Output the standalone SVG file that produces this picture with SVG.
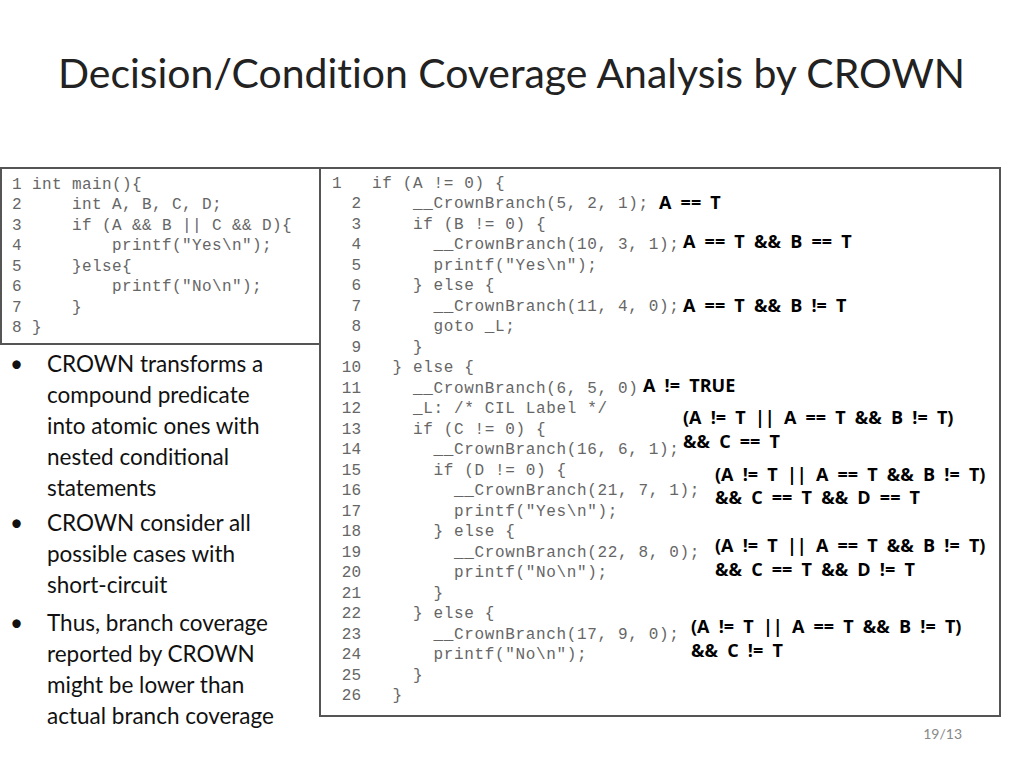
<svg xmlns="http://www.w3.org/2000/svg" width="1024" height="768" viewBox="0 0 1024 768">
<style>
.code{font-family:"Liberation Mono",monospace;font-size:16px;fill:#666;white-space:pre}
.l{letter-spacing:0.4px}
.r{letter-spacing:0.65px}
.num{font-family:"Liberation Mono",monospace;font-size:16px;fill:#666;text-anchor:end}
.ann{font-family:"Open Sans",sans-serif;font-weight:bold;font-size:18px;word-spacing:4.5px;fill:#000}
.bul{font-family:Lato,"Open Sans",sans-serif;font-size:22.5px;fill:#111}
</style>
<rect width="1024" height="768" fill="#fff"/>
<text x="58" y="88" font-family="Lato,'Open Sans',sans-serif" font-size="40" fill="#222" style="font-variant-ligatures:none" textLength="907" lengthAdjust="spacingAndGlyphs">Decision/Condition Coverage Analysis by CROWN</text>
<g id="left-code">
<rect x="1" y="168" width="319" height="176" fill="#fff" stroke="#555" stroke-width="2"/>
<text class="code l" xml:space="preserve"><tspan x="12" y="189">1 int main(){</tspan><tspan x="12" y="209">2     int A, B, C, D;</tspan><tspan x="12" y="230">3     if (A &amp;&amp; B || C &amp;&amp; D){</tspan><tspan x="12" y="250">4         printf("Yes\n");</tspan><tspan x="12" y="271">5     }else{</tspan><tspan x="12" y="291">6         printf("No\n");</tspan><tspan x="12" y="312">7     }</tspan><tspan x="12" y="332">8 }</tspan></text>
</g>
<g id="right-code">
<rect x="320" y="168" width="680" height="548" fill="#fff" stroke="#555" stroke-width="2"/>
<text class="code" x="332" y="188">1</text>
<text class="num"><tspan x="361" y="208">2</tspan><tspan x="361" y="229">3</tspan><tspan x="361" y="249">4</tspan><tspan x="361" y="270">5</tspan><tspan x="361" y="290">6</tspan><tspan x="361" y="311">7</tspan><tspan x="361" y="331">8</tspan><tspan x="361" y="352">9</tspan><tspan x="361" y="372">10</tspan><tspan x="361" y="393">11</tspan><tspan x="361" y="413">12</tspan><tspan x="361" y="434">13</tspan><tspan x="361" y="454">14</tspan><tspan x="361" y="475">15</tspan><tspan x="361" y="495">16</tspan><tspan x="361" y="516">17</tspan><tspan x="361" y="536">18</tspan><tspan x="361" y="557">19</tspan><tspan x="361" y="577">20</tspan><tspan x="361" y="598">21</tspan><tspan x="361" y="618">22</tspan><tspan x="361" y="639">23</tspan><tspan x="361" y="659">24</tspan><tspan x="361" y="680">25</tspan><tspan x="361" y="700">26</tspan></text>
<text class="code r" xml:space="preserve"><tspan x="372" y="188">if (A != 0) {</tspan><tspan x="372" y="208">    __CrownBranch(5, 2, 1);</tspan><tspan x="372" y="229">    if (B != 0) {</tspan><tspan x="372" y="249">      __CrownBranch(10, 3, 1);</tspan><tspan x="372" y="270">      printf("Yes\n");</tspan><tspan x="372" y="290">    } else {</tspan><tspan x="372" y="311">      __CrownBranch(11, 4, 0);</tspan><tspan x="372" y="331">      goto _L;</tspan><tspan x="372" y="352">    }</tspan><tspan x="372" y="372">  } else {</tspan><tspan x="372" y="393">    __CrownBranch(6, 5, 0);</tspan><tspan x="372" y="413">    _L: /* CIL Label */</tspan><tspan x="372" y="434">    if (C != 0) {</tspan><tspan x="372" y="454">      __CrownBranch(16, 6, 1);</tspan><tspan x="372" y="475">      if (D != 0) {</tspan><tspan x="372" y="495">        __CrownBranch(21, 7, 1);</tspan><tspan x="372" y="516">        printf("Yes\n");</tspan><tspan x="372" y="536">      } else {</tspan><tspan x="372" y="557">        __CrownBranch(22, 8, 0);</tspan><tspan x="372" y="577">        printf("No\n");</tspan><tspan x="372" y="598">      }</tspan><tspan x="372" y="618">    } else {</tspan><tspan x="372" y="639">      __CrownBranch(17, 9, 0);</tspan><tspan x="372" y="659">      printf("No\n");</tspan><tspan x="372" y="680">    }</tspan><tspan x="372" y="700">  }</tspan></text>
</g>
<g id="annotations">
<rect x="656" y="192" width="75" height="22" fill="#fff"/>
<rect x="640" y="375" width="110" height="22" fill="#fff"/>
<text class="ann" x="659" y="209">A == T</text>
<text class="ann" x="683" y="248">A == T &amp;&amp; B == T</text>
<text class="ann" x="683" y="312">A == T &amp;&amp; B != T</text>
<text class="ann" x="643" y="392">A != TRUE</text>
<text class="ann" x="683" y="424">(A != T || A == T &amp;&amp; B != T)</text>
<text class="ann" x="683" y="448">&amp;&amp; C == T</text>
<text class="ann" x="715" y="481">(A != T || A == T &amp;&amp; B != T)</text>
<text class="ann" x="715" y="504">&amp;&amp; C == T &amp;&amp; D == T</text>
<text class="ann" x="715" y="552">(A != T || A == T &amp;&amp; B != T)</text>
<text class="ann" x="715" y="576">&amp;&amp; C == T &amp;&amp; D != T</text>
<text class="ann" x="691" y="633">(A != T || A == T &amp;&amp; B != T)</text>
<text class="ann" x="691" y="657">&amp;&amp; C != T</text>
</g>
<g id="bullets" class="bul">
<text x="10" y="372">•</text><text x="10" y="531">•</text><text x="10" y="631">•</text>
<text x="47" y="372">CROWN transforms a</text>
<text x="47" y="403">compound predicate</text>
<text x="47" y="434">into atomic ones with</text>
<text x="47" y="465">nested conditional</text>
<text x="47" y="496">statements</text>
<text x="47" y="531">CROWN consider all</text>
<text x="47" y="562">possible cases with</text>
<text x="47" y="593">short-circuit</text>
<text x="47" y="631">Thus, branch coverage</text>
<text x="47" y="662">reported by CROWN</text>
<text x="47" y="693">might be lower than</text>
<text x="47" y="724">actual branch coverage</text>
</g>
<text x="962" y="739" text-anchor="end" font-family="Lato,'Open Sans',sans-serif" font-size="14" fill="#888">19/13</text>
</svg>
